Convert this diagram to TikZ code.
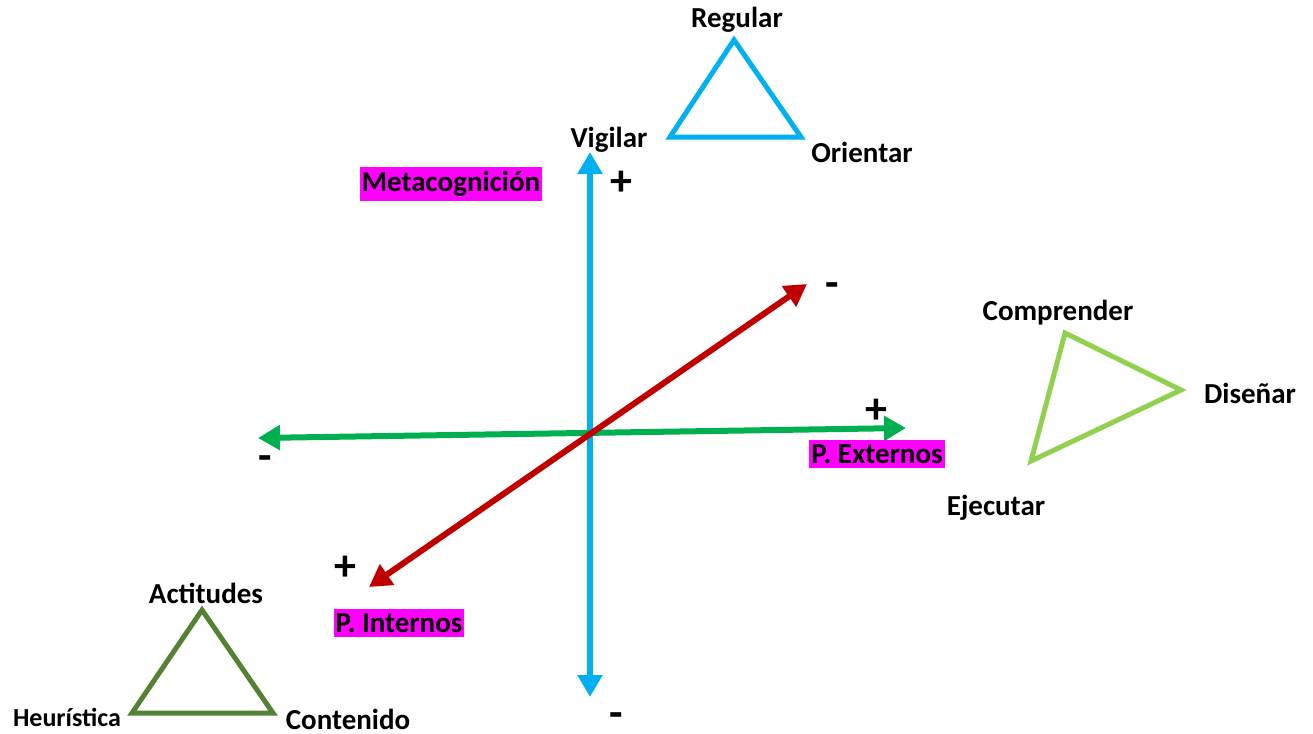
\documentclass[tikz,border=0pt]{standalone}
\usepackage{fontspec}
\setmainfont{Carlito}
\usetikzlibrary{arrows.meta}
\definecolor{cblue}{HTML}{00B0F0}
\definecolor{cred}{HTML}{C00000}
\definecolor{cgreen}{HTML}{00B050}
\definecolor{lgreen}{HTML}{92D050}
\definecolor{dgreen}{HTML}{548235}
\definecolor{mag}{HTML}{FF00FF}
\tikzset{
  lbl/.style={font=\fontsize{29}{32}\selectfont\bfseries, inner sep=0pt},
  sgn/.style={font=\fontsize{44}{48}\selectfont\bfseries, inner sep=0pt},
  hl/.style={lbl, fill=mag, inner xsep=2pt, inner ysep=4pt},
  axis/.style={line width=6pt, {Triangle[width=24pt,length=22pt]}-{Triangle[width=24pt,length=22pt]}},
  tri/.style={line width=5pt, line join=miter},
}
\begin{document}
\begin{tikzpicture}[x=1pt,y=-1pt]
\useasboundingbox (0,0) rectangle (1313,733);
% axis end points
\coordinate (vtop) at (590,152);
\coordinate (vbot) at (590,697);
\coordinate (gl) at (258,438);
\coordinate (gr) at (906,428);
\coordinate (rl) at (369,587);
\coordinate (ru) at (807,284);
% axes
\draw[axis, cblue] (vbot) -- (vtop);
\draw[axis, cgreen] (gl) -- (gr);
\draw[axis, cred] (rl) -- (ru);
% signs
\node[sgn] (p1) at (621,183) {+};
\node[sgn] (m1) at (616,720) {-};
\node[sgn] (p2) at (876,411) {+};
\node[sgn] (m2) at (265,463) {-};
\node[sgn] (p3) at (345,568) {+};
\node[sgn] (m3) at (832,290) {-};
% highlighted labels
\node[hl] (meta) at (451,184) {Metacognición};
\node[hl] (pext) at (877,454) {P. Externos};
\node[hl] (pint) at (399,623) {P. Internos};
% blue triangle
\coordinate (bt) at (734,40);
\coordinate (bl) at (670,137);
\coordinate (br) at (801,137);
\draw[tri, cblue] (bt) -- (br) -- (bl) -- cycle;
\node[lbl] (regular) at (737,20) {Regular};
\node[lbl] (vigilar) at (609,140) {Vigilar};
\node[lbl] (orientar) at (862,152) {Orientar};
% light green triangle
\coordinate (lt) at (1065,333);
\coordinate (lr) at (1181,390);
\coordinate (lb) at (1031,461);
\draw[tri, lgreen] (lt) -- (lr) -- (lb) -- cycle;
\node[lbl] (compr) at (1058,313) {Comprender};
\node[lbl] (disen) at (1250,393) {Diseñar};
\node[lbl] (ejec) at (996,508) {Ejecutar};
% dark green triangle
\coordinate (dt) at (202,610);
\coordinate (dl) at (132,713);
\coordinate (dr) at (273,713);
\draw[tri, dgreen] (dt) -- (dr) -- (dl) -- cycle;
\node[lbl] (actit) at (206,593) {Actitudes};
\node[lbl, font=\fontsize{26}{29}\selectfont\bfseries] (heur) at (67,717) {Heurística};
\node[lbl] (conten) at (348,719) {Contenido};
\end{tikzpicture}
\end{document}
